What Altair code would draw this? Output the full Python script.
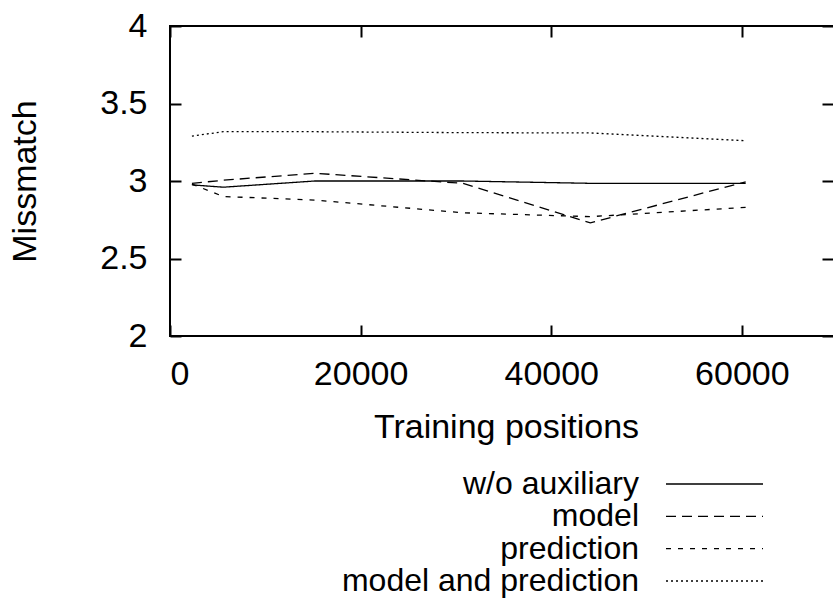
import altair as alt
import pandas as pd

# ---- data ----
positions = [2300, 5600, 15200, 30700, 44100, 60400]
series_names = ["w/o auxiliary", "model", "prediction", "model and prediction"]
wo_auxiliary = [2.975, 2.96, 3.00, 3.00, 2.985, 2.985]
model = [2.985, 3.005, 3.05, 2.985, 2.73, 2.995]
prediction = [2.98, 2.90, 2.877, 2.795, 2.77, 2.83]
model_and_prediction = [3.29, 3.318, 3.318, 3.312, 3.31, 3.26]
x_ticks = [0, 20000, 40000, 60000]
y_ticks = [2, 2.5, 3, 3.5, 4]

rows = []
for name, vals in zip(series_names, [wo_auxiliary, model, prediction, model_and_prediction]):
    for xv, yv in zip(positions, vals):
        rows.append({"pos": xv, "val": yv, "series": name})
df = pd.DataFrame(rows)
leg_df = pd.DataFrame({"series": series_names, "row": list(range(len(series_names)))})
frame_df = pd.DataFrame({"k": [0]})

# ---- styling ----
W, H = 663, 310
XMAX = 69560
FONT = "Liberation Sans"
FS = 34
LFS = 32
dash_range = [[1, 0], [10, 6], [5, 7], [2, 3]]

xscale = alt.Scale(domain=[0, XMAX], nice=False, zero=False)
yscale = alt.Scale(domain=[2, 4], nice=False, zero=False)
dash = alt.StrokeDash("series:N", scale=alt.Scale(domain=series_names, range=dash_range), legend=None)

tick_style = dict(tickSize=11, tickWidth=2, tickColor="black", domain=False, grid=False, offset=-11)

lines = alt.Chart(df).mark_line(color="black", strokeWidth=1.3).encode(
    x=alt.X("pos:Q", scale=xscale,
            axis=alt.Axis(orient="bottom", values=x_ticks, format="d", labelPadding=21,
                          labelFontSize=FS, labelFont=FONT, labelColor="black",
                          title="Training positions", titleFontSize=FS, titleFont=FONT,
                          titleFontWeight="normal", titleColor="black", titleX=336, titleY=112,
                          titleAlign="center", titleBaseline="alphabetic", **tick_style)),
    y=alt.Y("val:Q", scale=yscale,
            axis=alt.Axis(orient="left", values=y_ticks, format="~g", labelPadding=23,
                          labelFontSize=FS, labelFont=FONT, labelColor="black",
                          title="Missmatch", titleFontSize=FS, titleFont=FONT,
                          titleFontWeight="normal", titleColor="black", titleAngle=270,
                          titleX=-146, titleY=155, titleAlign="center",
                          titleBaseline="alphabetic", **tick_style)),
    strokeDash=dash,
    detail="series:N",
)

mirror = alt.Chart(df).mark_point(opacity=0).encode(
    x=alt.X("pos:Q", scale=xscale,
            axis=alt.Axis(orient="top", values=x_ticks, labels=False, title=None, **tick_style)),
    y=alt.Y("val:Q", scale=yscale,
            axis=alt.Axis(orient="right", values=y_ticks, labels=False, title=None, **tick_style)),
)

frame_left = alt.Chart(frame_df).mark_rule(color="black", strokeWidth=2).encode(
    x=alt.value(0), y=alt.value(-1), y2=alt.value(H + 1))
frame_top = alt.Chart(frame_df).mark_rule(color="black", strokeWidth=2).encode(
    x=alt.value(-1), x2=alt.value(W + 5), y=alt.value(0))
frame_bottom = alt.Chart(frame_df).mark_rule(color="black", strokeWidth=2).encode(
    x=alt.value(-1), x2=alt.value(W + 5), y=alt.value(H))

ly = alt.Y("row:Q", scale=alt.Scale(domain=[0, len(series_names) - 1], range=[458, 555],
                                    nice=False, zero=False), axis=None)
leg_text = alt.Chart(leg_df).mark_text(align="right", baseline="middle", font=FONT,
                                       fontSize=LFS, color="black").encode(
    x=alt.value(469), y=ly, text="series:N")
leg_rule = alt.Chart(leg_df).mark_rule(color="black", strokeWidth=1.3).encode(
    x=alt.value(496), x2=alt.value(593), y=ly, strokeDash=dash)
legend = alt.layer(leg_text, leg_rule)

chart = alt.layer(lines, mirror, frame_left, frame_top, frame_bottom, legend).resolve_scale(
    y="independent"
).resolve_axis(
    x="independent", y="independent"
).properties(
    width=W, height=H,
    autosize=alt.AutoSizeParams(type="none"),
    padding={"left": 170, "top": 26, "right": 0, "bottom": 268},
    background="white",
).configure_view(stroke=None)

chart.save("out.html", embed_options={"renderer": "svg", "actions": False})
